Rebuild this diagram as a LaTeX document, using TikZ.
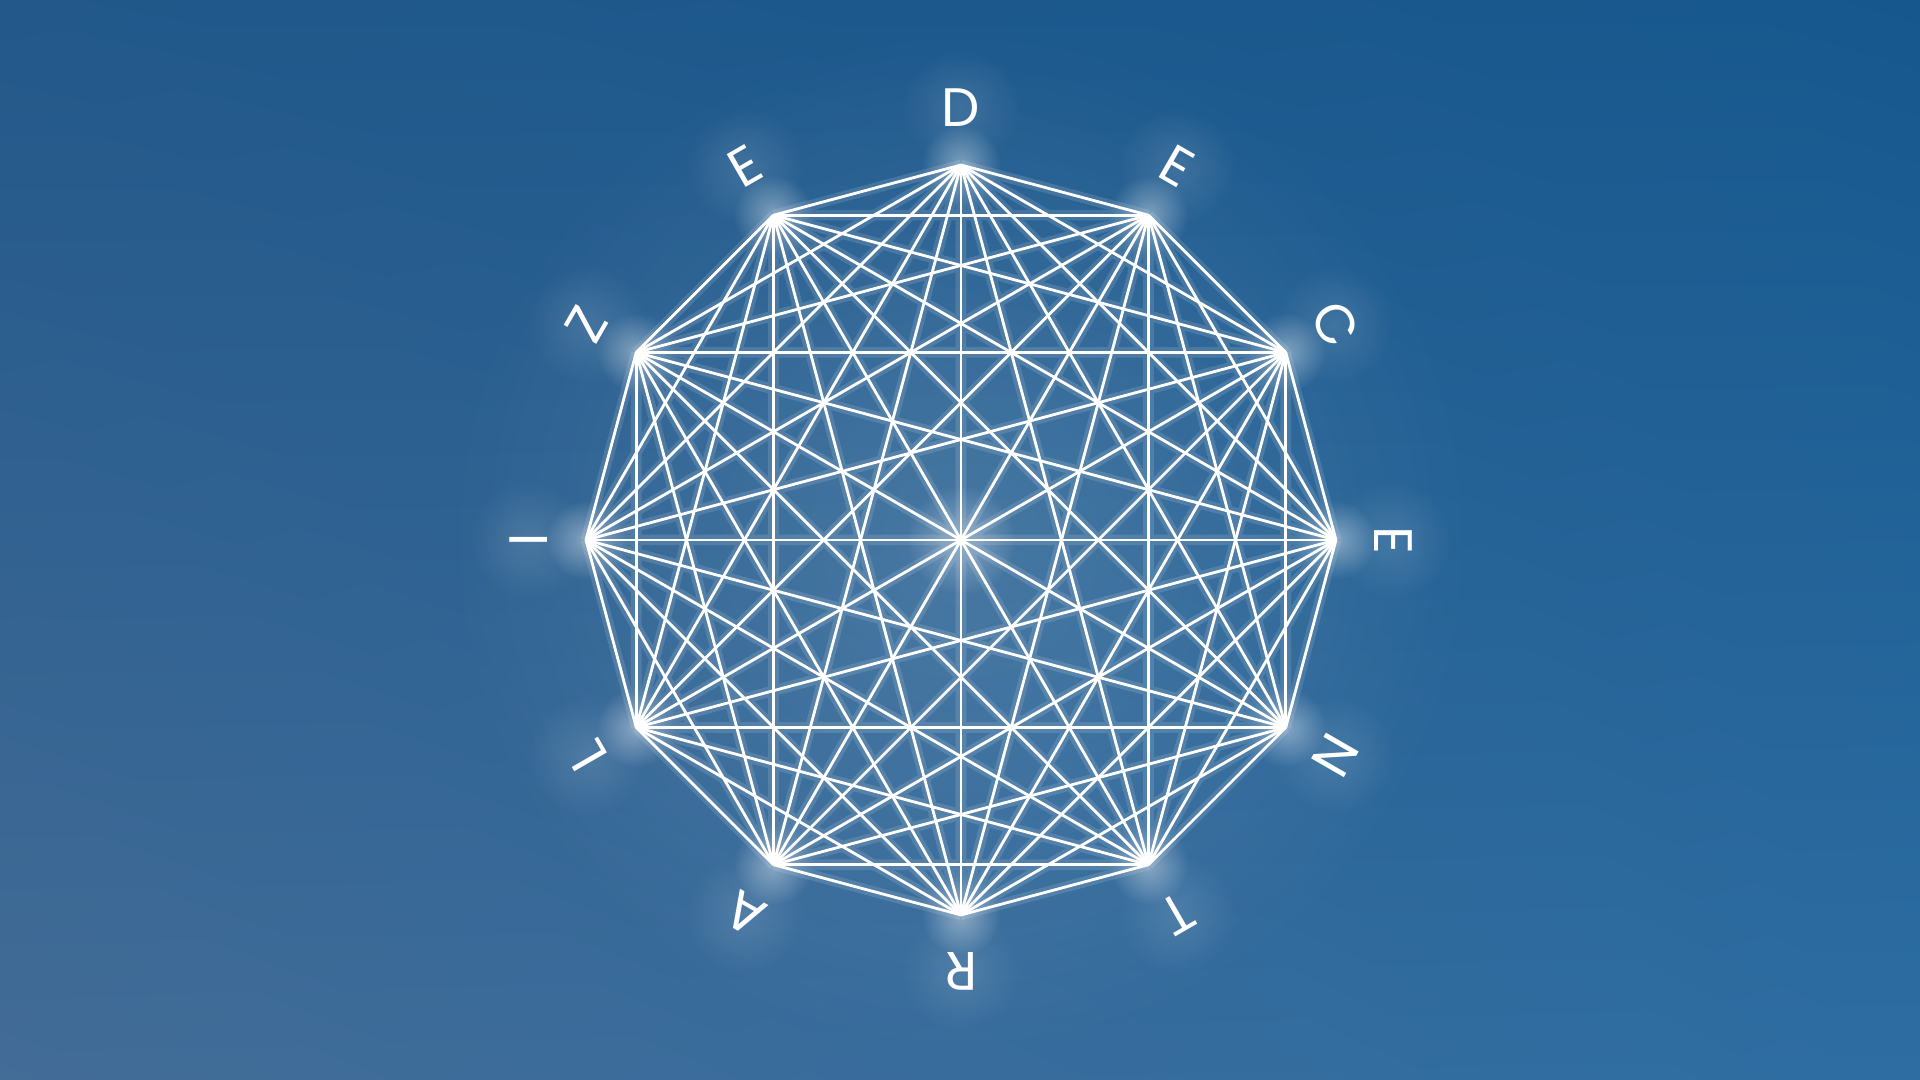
\documentclass[tikz,border=0pt]{standalone}
\usepackage{fontspec}
\setmainfont{Poppins}
\usetikzlibrary{fadings,shadings}
\definecolor{bgTL}{RGB}{34,88,138}
\definecolor{bgTR}{RGB}{22,88,142}
\definecolor{bgBL}{RGB}{67,108,151}
\definecolor{bgBR}{RGB}{45,109,162}
\tikzfading[name=glowfade, inner color=transparent!0, outer color=transparent!100]
\tikzset{
  edge/.style={white, line width=0.8pt},
  edgeglow/.style={white, line width=3pt},
  letter/.style={text=white, font=\fontsize{15.4}{16}\selectfont, inner sep=0pt,
                 text height=10.8pt, text depth=0pt, anchor=center},
  halo/.style={white, path fading=glowfade}
}
\begin{document}
\begin{tikzpicture}[x=0.01cm,y=0.01cm]
\shade[upper left=bgTL, upper right=bgTR, lower left=bgBL, lower right=bgBR] (0,0) rectangle (1920,1080);
\useasboundingbox (0,0) rectangle (1920,1080);
% vertices
\foreach \i in {0,...,11}{
  \pgfmathsetmacro\a{90-30*\i}
  \coordinate (v\i) at ({961+375*cos(\a)},{540+375*sin(\a)});
}
% soft glow around the whole figure
\fill[halo, opacity=0.14] (961,540) circle (520);
% glow of edges
\begin{scope}[transparency group, opacity=0.12]
  \foreach \i in {0,...,10}{
    \pgfmathtruncatemacro\s{\i+1}
    \foreach \j in {\s,...,11}{
      \draw[edgeglow] (v\i) -- (v\j);
    }
  }
\end{scope}
% halos at vertices and centre
\foreach \i in {0,...,11}{
  \fill[halo, opacity=0.4] (v\i) circle (40);
}
\fill[halo, opacity=0.35] (961,540) circle (55);
% edges
\foreach \i in {0,...,10}{
  \pgfmathtruncatemacro\s{\i+1}
  \foreach \j in {\s,...,11}{
    \draw[edge] (v\i) -- (v\j);
  }
}
% letters
\foreach \i/\l in {0/D,1/E,2/C,3/E,4/N,5/T,6/R,7/A,8/L,9/I,10/Z,11/E}{
  \pgfmathsetmacro\a{90-30*\i}
  \fill[halo, opacity=0.12] ({961+432*cos(\a)},{540+432*sin(\a)}) circle (60);
  \node[letter, rotate=\a-90] (t\i) at ({961+432*cos(\a)},{540+432*sin(\a)}) {\l};
}
\end{tikzpicture}
\end{document}
